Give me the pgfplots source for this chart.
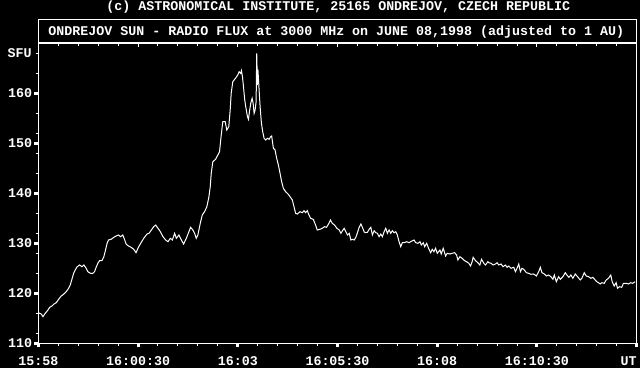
\documentclass[border=0pt]{standalone}
\usepackage{pgfplots}
\pgfplotsset{compat=1.18}
\usepackage{fontspec}
\setmainfont{Liberation Mono}
\pgfplotstableread{
t y
0.000 116.06
0.075 115.80
0.118 115.26
0.175 115.94
0.243 116.60
0.285 117.14
0.343 117.40
0.393 117.80
0.450 118.06
0.510 118.74
0.575 119.40
0.643 119.80
0.700 120.26
0.760 120.94
0.800 121.60
0.843 122.74
0.885 123.94
0.925 124.60
0.975 125.26
1.035 125.60
1.093 125.26
1.143 125.60
1.200 124.94
1.243 124.26
1.310 123.94
1.368 123.94
1.410 124.26
1.450 125.14
1.493 125.94
1.535 126.46
1.593 126.46
1.643 127.26
1.685 128.60
1.725 129.94
1.760 130.60
1.825 130.74
1.893 131.14
1.950 131.40
2.010 131.60
2.060 131.26
2.118 131.60
2.160 130.74
2.200 129.80
2.260 129.40
2.325 129.14
2.393 128.74
2.450 128.06
2.510 129.14
2.575 130.06
2.643 130.94
2.725 131.80
2.775 131.94
2.835 132.60
2.893 133.26
2.943 133.60
3.000 132.94
3.060 132.26
3.125 131.26
3.193 130.60
3.250 130.26
3.310 130.94
3.360 130.60
3.418 131.94
3.460 130.94
3.525 131.60
3.585 130.60
3.643 129.80
3.710 130.94
3.775 132.26
3.818 133.14
3.875 132.60
3.918 131.94
3.960 130.94
4.000 131.60
4.060 133.94
4.110 135.60
4.168 136.26
4.225 137.26
4.275 139.14
4.310 141.26
4.335 143.94
4.375 146.26
4.443 146.74
4.500 147.60
4.543 148.26
4.568 150.26
4.600 152.60
4.625 154.26
4.685 154.26
4.725 152.60
4.775 153.26
4.810 156.60
4.835 159.94
4.875 162.26
4.943 162.94
5.000 163.60
5.035 164.26
5.075 163.94
5.093 164.46
5.118 163.26
5.143 161.26
5.175 158.60
5.200 157.26
5.243 155.26
5.268 154.74
5.293 156.26
5.325 157.94
5.360 158.94
5.385 157.94
5.410 155.94
5.435 156.60
5.460 158.26
5.475 167.94
5.493 161.60
5.505 164.74
5.535 160.60
5.560 157.26
5.593 153.94
5.625 152.26
5.660 150.94
5.700 150.60
5.743 150.94
5.785 150.74
5.825 151.26
5.850 151.40
5.893 148.94
5.935 148.60
5.975 146.94
6.018 145.60
6.060 143.94
6.100 142.26
6.143 140.94
6.200 140.26
6.260 139.80
6.310 139.26
6.368 138.60
6.410 137.26
6.450 135.94
6.493 135.80
6.560 136.26
6.618 136.06
6.660 136.46
6.700 136.06
6.743 136.46
6.785 135.60
6.825 134.94
6.893 134.74
6.950 133.60
6.993 132.60
7.060 132.74
7.118 132.94
7.175 133.26
7.225 133.14
7.285 133.94
7.325 134.60
7.368 133.94
7.425 133.60
7.485 132.94
7.543 132.60
7.585 131.94
7.625 132.46
7.668 132.94
7.710 132.26
7.750 131.60
7.793 131.94
7.835 130.60
7.875 130.74
7.918 130.60
7.960 131.14
8.000 132.06
8.043 133.14
8.085 133.80
8.125 133.14
8.168 132.20
8.210 132.06
8.250 132.14
8.293 132.74
8.335 133.14
8.375 131.60
8.418 132.46
8.460 132.06
8.500 131.94
8.543 131.26
8.585 131.80
8.625 131.26
8.668 132.26
8.710 132.94
8.750 131.94
8.793 132.60
8.835 131.94
8.875 132.46
8.918 132.06
8.960 132.26
9.000 131.60
9.043 130.26
9.085 129.26
9.125 130.06
9.168 130.06
9.235 130.26
9.293 130.06
9.350 130.34
9.418 130.60
9.460 130.06
9.518 129.94
9.568 130.26
9.600 129.60
9.650 130.06
9.685 129.26
9.735 129.94
9.793 128.74
9.835 128.06
9.875 128.74
9.918 128.26
9.960 128.94
10.000 127.94
10.068 128.60
10.100 127.80
10.150 128.94
10.210 127.40
10.250 127.94
10.318 127.80
10.375 127.94
10.435 128.06
10.485 127.60
10.518 126.60
10.568 127.26
10.625 126.94
10.685 126.46
10.735 126.26
10.793 125.94
10.835 125.40
10.875 126.26
10.900 127.14
10.960 126.46
11.018 126.06
11.068 125.60
11.110 126.74
11.168 125.94
11.210 125.60
11.268 126.26
11.293 126.06
11.350 125.94
11.400 125.60
11.460 125.80
11.500 126.06
11.543 125.60
11.600 125.80
11.650 125.26
11.710 125.60
11.750 125.14
11.793 125.40
11.850 124.94
11.918 125.14
11.960 124.26
12.000 124.94
12.043 125.80
12.085 124.26
12.125 124.94
12.168 124.74
12.235 124.06
12.293 123.94
12.350 123.74
12.418 123.80
12.485 123.40
12.543 124.26
12.585 125.14
12.625 124.06
12.685 123.80
12.735 123.40
12.793 123.60
12.850 123.26
12.900 122.74
12.935 123.60
12.985 122.26
13.043 123.26
13.085 122.74
13.150 123.26
13.210 124.06
13.250 123.60
13.300 123.14
13.350 123.60
13.400 122.94
13.460 123.80
13.518 123.26
13.585 122.60
13.625 122.94
13.685 124.06
13.735 123.40
13.793 123.26
13.850 122.94
13.900 123.14
13.960 122.60
14.000 122.26
14.043 122.06
14.085 121.80
14.125 122.06
14.185 121.94
14.235 122.60
14.293 122.94
14.350 123.60
14.385 122.26
14.435 121.40
14.485 122.06
14.518 120.94
14.568 121.26
14.625 121.14
14.668 121.94
14.735 121.94
14.793 121.80
14.850 122.06
14.900 121.94
14.960 122.26
}\fluxdata
\begin{document}
\begin{tikzpicture}[font=\bfseries\fontsize{13.38}{15}\selectfont]
\fill[black] (-38.3bp,-25bp) rectangle (601.7bp,343bp);
\begin{axis}[
  at={(0bp,0bp)}, anchor=south west,
  scale only axis, width=598.4bp, height=300bp,
  xmin=0, xmax=15, ymin=110, ymax=170,
  axis line style={white, line width=1bp},
  xtick={0,2.5,...,15},
  xticklabels={15:58,16:00:30,16:03,16:05:30,16:08,16:10:30,{}},
  minor x tick num=4,
  ytick={110,120,...,160},
  yticklabels={110,120,130,140,150,160},
  minor ytick={112,116,124,128,132,136,144,148,152,156,164,168},
  xtick pos=bottom, ytick pos=left,
  tick align=outside,
  major tick length=4bp, minor tick length=2.5bp,
  major tick style={white, line width=3bp},
  minor tick style={white, line width=1bp},
  xticklabel style={white, anchor=base, inner sep=0pt, yshift=-18bp},
  yticklabel style={white, anchor=east, inner sep=0pt, xshift=-2bp},
  /pgf/number format/assume math mode=true,
  clip=false,
]
\addplot[white, line width=1bp, no markers] table[x=t, y=y] {\fluxdata};
\node[white, anchor=east, inner sep=0pt] at (axis cs:0,168) [xshift=-6.5bp] {SFU};
\node[white, anchor=base east, inner sep=0pt] at (axis cs:15,110) [yshift=-22bp] {UT};
\end{axis}
\begin{axis}[
  at={(0bp,0bp)}, anchor=south west,
  scale only axis, width=598.4bp, height=300bp,
  xmin=0, xmax=15, ymin=110, ymax=170,
  axis x line*=top, axis y line=none,
  axis line style={white, line width=1bp},
  xtick={0,2.5,...,15}, xticklabels={},
  minor x tick num=4,
  tick align=inside,
  major tick length=4bp, minor tick length=2.5bp,
  major tick style={white, line width=1bp},
  minor tick style={white, line width=1bp},
]
\end{axis}
\draw[white, line width=1bp] (0bp,300bp) rectangle (598.4bp,323.7bp);
\node[white, anchor=base, inner sep=0pt] at (298bp,307bp) {ONDREJOV SUN - RADIO FLUX at 3000 MHz on JUNE 08,1998 (adjusted to 1 AU)};
\node[white, anchor=base, inner sep=0pt] at (300bp,332bp) {(c) ASTRONOMICAL INSTITUTE, 25165 ONDREJOV, CZECH REPUBLIC};
\pgfresetboundingbox
\useasboundingbox (-38.3bp,-25bp) rectangle (601.7bp,343bp);
\end{tikzpicture}
\end{document}
